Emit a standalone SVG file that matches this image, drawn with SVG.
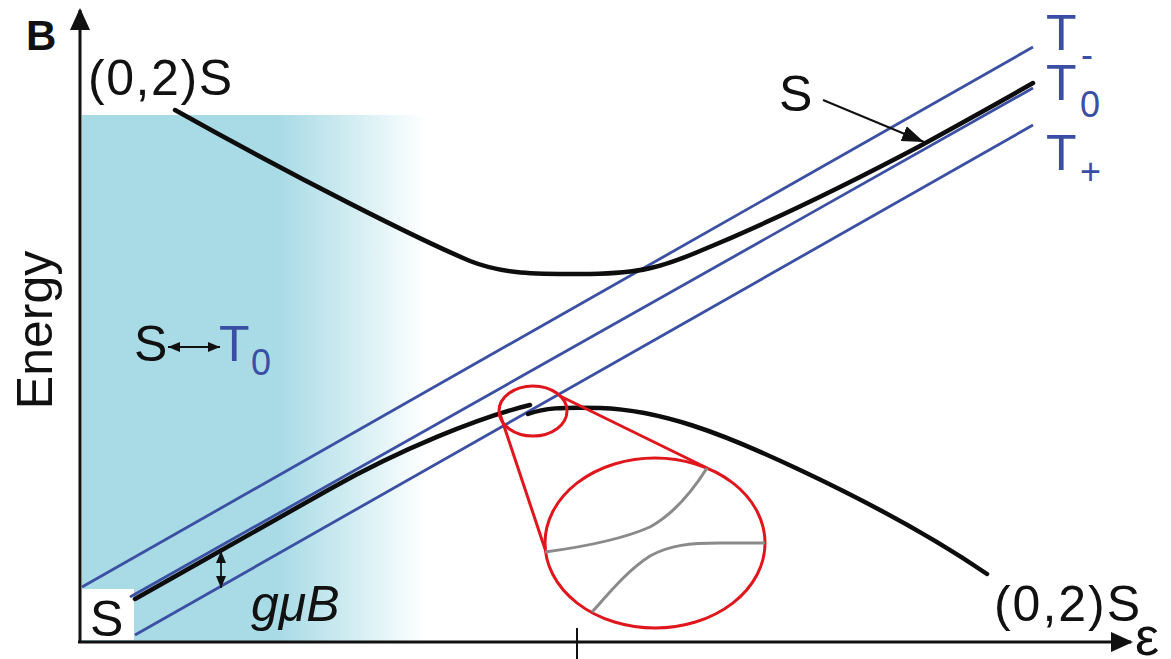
<svg xmlns="http://www.w3.org/2000/svg" width="1171" height="659" viewBox="0 0 1171 659">
<style>
text{font-family:"Liberation Sans",Arial,sans-serif;fill:#111}
.blu{fill:#3a4fa3}
.big{font-size:50px}
.sub{font-size:36px}
.level{fill:none;stroke:#3b50a2;stroke-width:2.8}
.s{fill:none;stroke:#0d0d0d;stroke-width:4.5;stroke-linecap:round}
.axis{fill:none;stroke:#111;stroke-width:3}
.red{fill:none;stroke:#e0161d;stroke-width:3}
.gray{fill:none;stroke:#8a8a8a;stroke-width:3}
.thin{fill:none;stroke:#111;stroke-width:2}
</style>
<defs>
<linearGradient id="shade" gradientUnits="userSpaceOnUse" x1="280" y1="0" x2="425" y2="0">
<stop offset="0" stop-color="#a9dbe6"/>
<stop offset="0.5" stop-color="#d2edf2"/>
<stop offset="1" stop-color="#ffffff"/>
</linearGradient>
<marker id="axhead" markerUnits="userSpaceOnUse" markerWidth="24" markerHeight="22" refX="20" refY="10" orient="auto">
<path d="M0,0 L22,10 L0,20 Z" fill="#111"/>
</marker>
<marker id="head" markerUnits="userSpaceOnUse" markerWidth="24" markerHeight="18" refX="22" refY="8" orient="auto">
<path d="M0,0 L22,8 L0,16 Z" fill="#111"/>
</marker>
<marker id="small" markerUnits="userSpaceOnUse" markerWidth="14" markerHeight="12" refX="12" refY="5" orient="auto-start-reverse">
<path d="M0,0 L12,5 L0,10 Z" fill="#111"/>
</marker>
</defs>
<rect width="1171" height="659" fill="#fff"/>
<g id="shaded-region">
<rect x="82" y="115" width="345" height="526" fill="url(#shade)"/>
<rect x="82" y="589" width="52" height="51" fill="#fff"/>
</g>
<g id="levels">
<line id="T-minus" class="level" x1="82" y1="587" x2="1033" y2="47"/>
<line id="T-zero" class="level" x1="130" y1="597" x2="1033" y2="88"/>
<line id="T-plus" class="level" x1="135" y1="635" x2="1033" y2="125"/>
</g>
<g id="singlet-curves">
<path id="S-upper" class="s" d="M175,110 C300,180 420,240 470,261 C505,275 540,274 590,274 C640,273 660,268 700,251 C780,218 850,183 920,146 C960,124 1000,102 1033,83"/>
<path id="S-lower-left" class="s" d="M135,599 C200,562.3 280,517.1 330,489 C400,449.5 480,417 530,405"/>
<path id="S-lower-right" class="s" d="M528,414 C545,408 560,407 600,408 C660,410 720,432 800,470 C870,503 930,535 987,574"/>
</g>
<g id="zoom-inset">
<ellipse class="red" cx="533" cy="411" rx="34" ry="25"/>
<ellipse class="red" cx="655" cy="543" rx="110" ry="85"/>
<line class="red" x1="500" y1="414" x2="545" y2="549"/>
<line class="red" x1="560" y1="396" x2="707" y2="468"/>
<path class="gray" d="M545,552 C590,546 625,538 650,527 C670,516 690,495 707,468"/>
<path class="gray" d="M592,612 C610,592 628,570 650,556 C670,545 690,543 720,543 L765,543"/>
</g>
<g id="axes">
<line class="axis" x1="80" y1="642" x2="80" y2="10" marker-end="url(#axhead)"/>
<line class="axis" x1="78" y1="642" x2="1131" y2="642" marker-end="url(#axhead)"/>
<line class="thin" x1="577" y1="628" x2="577" y2="659"/>
</g>
<g id="connectors">
<line class="thin" x1="823" y1="100" x2="924" y2="142" marker-end="url(#head)"/>
<line x1="168" y1="347" x2="220" y2="347" stroke="#111" stroke-width="1.8" marker-start="url(#small)" marker-end="url(#small)"/>
<line x1="221" y1="551" x2="221" y2="588" stroke="#111" stroke-width="1.8" marker-start="url(#small)" marker-end="url(#small)"/>
</g>
<g id="labels">
<text x="26" y="50" font-size="42" font-weight="bold">B</text>
<text class="big" x="88" y="95" textLength="144" lengthAdjust="spacing">(0,2)S</text>
<text class="big" transform="translate(52,330) rotate(-90)" text-anchor="middle">Energy</text>
<text class="big" x="134" y="361">S</text>
<text class="big blu" x="219" y="361">T</text>
<text class="sub blu" x="251" y="375">0</text>
<text class="big" x="779" y="111">S</text>
<text class="big blu" x="1046" y="50">T</text>
<text class="sub blu" x="1081" y="67">-</text>
<text class="big blu" x="1046" y="100">T</text>
<text class="sub blu" x="1080" y="117">0</text>
<text class="big blu" x="1046" y="170">T</text>
<text class="sub blu" x="1080" y="184">+</text>
<text class="big" x="251" y="621" font-style="italic">gμB</text>
<text class="big" x="90" y="636">S</text>
<text class="big" x="994" y="621" textLength="146" lengthAdjust="spacing">(0,2)S</text>
<text x="1135" y="655" font-size="54">ε</text>
</g>
</svg>
